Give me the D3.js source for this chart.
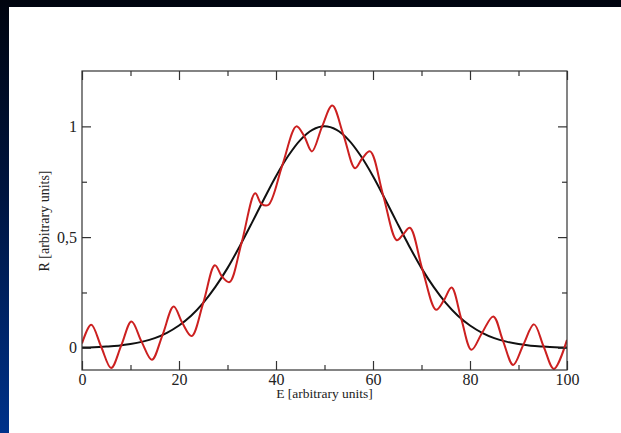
<!DOCTYPE html>
<html>
<head>
<meta charset="utf-8">
<script src="https://cdn.jsdelivr.net/npm/d3@7"></script>
<style>
  html, body { margin: 0; padding: 0; background: #fff; }
  svg { display: block; }
</style>
</head>
<body>
<svg id="chart" width="621" height="433"></svg>
<script>
// Gaussian reflectivity profile (black)
const gaussE = [0, 2.5, 5, 7.5, 10, 12.5, 15, 17.5, 20, 22.5, 25, 27.5, 30, 32.5, 35, 37.5, 40, 42.5, 45, 47.5,
                50, 52.5, 55, 57.5, 60, 62.5, 65, 67.5, 70, 72.5, 75, 77.5, 80, 82.5, 85, 87.5, 90, 92.5, 95, 97.5, 100];
const gaussR = [0.002, 0.003, 0.006, 0.010, 0.017, 0.028, 0.044, 0.068, 0.101, 0.145, 0.203, 0.275, 0.360, 0.458, 0.563, 0.671, 0.775, 0.866, 0.938, 0.984,
                1.000, 0.984, 0.938, 0.866, 0.775, 0.671, 0.563, 0.458, 0.360, 0.275, 0.203, 0.145, 0.101, 0.068, 0.044, 0.028, 0.017, 0.010, 0.006, 0.003, 0.002];

// Oscillating response (red): extrema and crossings of the profile
const waveE = [0, 1.9, 3.95, 6.0, 8.1, 10.2, 12.3, 14.4, 16.6, 18.9, 20.7, 22.6, 25.0, 27.4, 28.9, 30.4, 32.9, 35.7, 37.0, 38.4,
               41.3, 44.2, 45.8, 47.4, 49.5, 51.6, 53.9, 56.3, 57.8, 59.4, 62.1, 64.9, 66.2, 67.6, 70.2, 73.0, 74.6, 76.2, 78.2, 80.3,
               82.5, 84.8, 86.8, 88.9, 91.0, 93.2, 95.2, 97.3, 100];
const waveR = [0.020, 0.104, 0.005, -0.091, 0.011, 0.119, 0.027, -0.054, 0.058, 0.187, 0.112, 0.053, 0.203, 0.373, 0.321, 0.297, 0.474, 0.698, 0.650, 0.645,
               0.824, 1.000, 0.956, 0.887, 0.999, 1.094, 0.962, 0.811, 0.856, 0.887, 0.688, 0.486, 0.512, 0.542, 0.353, 0.172, 0.214, 0.272, 0.131, -0.009,
               0.068, 0.142, 0.032, -0.077, 0.014, 0.106, 0.005, -0.095, 0.036];

const xMajor = [0, 20, 40, 60, 80, 100];
const xMinor = [10, 30, 50, 70, 90];
const yMajor = [0, 0.5, 1];
const yMinor = [0.25, 0.75];
const yTickText = ["0", "0,5", "1"];
const xTitle = "E [arbitrary units]";
const yTitle = "R [arbitrary units]";

const W = 621, H = 433;
const svg = d3.select("#chart");

// slide backdrop: dark-to-blue frame with white panel
const defs = svg.append("defs");
const grad = defs.append("linearGradient").attr("id", "bg").attr("x1", 0).attr("y1", 0).attr("x2", 0).attr("y2", 1);
grad.append("stop").attr("offset", "0%").attr("stop-color", "#00040f");
grad.append("stop").attr("offset", "45%").attr("stop-color", "#001540");
grad.append("stop").attr("offset", "100%").attr("stop-color", "#00328a");
svg.append("rect").attr("width", W).attr("height", H).attr("fill", "url(#bg)");
svg.append("rect").attr("x", 9).attr("y", 7).attr("width", W - 9).attr("height", H - 7).attr("fill", "#ffffff");

const mLeft = 82, mRight = 567, mTop = 71, mBottom = 370;
const x = d3.scaleLinear().domain([0, 100]).range([mLeft, mRight]);
const y = d3.scaleLinear().domain([-0.1, 1.25]).range([mBottom, mTop]);

const plot = svg.append("g");
plot.append("clipPath").attr("id", "clip")
  .append("rect").attr("x", mLeft).attr("y", mTop).attr("width", mRight - mLeft).attr("height", mBottom - mTop);

const axisColor = "#333";
const font = "'Liberation Serif', 'Times New Roman', serif";

function styleAxis(g) {
  g.select(".domain").remove();
  g.selectAll(".tick line").attr("stroke", axisColor).attr("stroke-width", 1.2);
  g.selectAll(".tick text").attr("font-family", font).attr("font-size", 16).attr("fill", "#222");
}

// bottom axis with labels, ticks pointing into the plot
svg.append("g").attr("transform", `translate(0,${mBottom})`)
  .call(d3.axisBottom(x).tickValues(xMajor).tickSize(-9).tickPadding(4).tickFormat(d3.format("d")))
  .call(styleAxis);
svg.append("g").attr("transform", `translate(0,${mBottom})`)
  .call(d3.axisBottom(x).tickValues(xMinor).tickSize(-5).tickFormat(""))
  .call(styleAxis);
// top mirror ticks
svg.append("g").attr("transform", `translate(0,${mTop})`)
  .call(d3.axisTop(x).tickValues(xMajor).tickSize(-9).tickFormat(""))
  .call(styleAxis);
svg.append("g").attr("transform", `translate(0,${mTop})`)
  .call(d3.axisTop(x).tickValues(xMinor).tickSize(-5).tickFormat(""))
  .call(styleAxis);
// left axis with labels
svg.append("g").attr("transform", `translate(${mLeft},0)`)
  .call(d3.axisLeft(y).tickValues(yMajor).tickSize(-9).tickPadding(5).tickFormat((d, i) => yTickText[i]))
  .call(styleAxis);
svg.append("g").attr("transform", `translate(${mLeft},0)`)
  .call(d3.axisLeft(y).tickValues(yMinor).tickSize(-5).tickFormat(""))
  .call(styleAxis);
// right mirror ticks
svg.append("g").attr("transform", `translate(${mRight},0)`)
  .call(d3.axisRight(y).tickValues(yMajor).tickSize(-9).tickFormat(""))
  .call(styleAxis);
svg.append("g").attr("transform", `translate(${mRight},0)`)
  .call(d3.axisRight(y).tickValues(yMinor).tickSize(-5).tickFormat(""))
  .call(styleAxis);

// curves
const gaussData = gaussE.map((e, i) => [e, gaussR[i]]);
const waveData = waveE.map((e, i) => [e, waveR[i]]);
const line = d3.line().x(d => x(d[0])).y(d => y(d[1]));

plot.append("path").datum(gaussData)
  .attr("clip-path", "url(#clip)")
  .attr("fill", "none").attr("stroke", "#111").attr("stroke-width", 2)
  .attr("d", line.curve(d3.curveCatmullRom.alpha(0.5)));
plot.append("path").datum(waveData)
  .attr("clip-path", "url(#clip)")
  .attr("fill", "none").attr("stroke", "#cc2020").attr("stroke-width", 2)
  .attr("d", line.curve(d3.curveCatmullRom.alpha(0.5)));

// frame
svg.append("rect").attr("x", mLeft).attr("y", mTop).attr("width", mRight - mLeft).attr("height", mBottom - mTop)
  .attr("fill", "none").attr("stroke", axisColor).attr("stroke-width", 1.2);

// axis titles
svg.append("text").attr("x", (mLeft + mRight) / 2).attr("y", 398)
  .attr("text-anchor", "middle").attr("font-family", font).attr("font-size", 13.5).attr("fill", "#222")
  .text(xTitle);
svg.append("text").attr("transform", "translate(49,221) rotate(-90)")
  .attr("text-anchor", "middle").attr("font-family", font).attr("font-size", 14).attr("fill", "#222")
  .text(yTitle);
</script>
</body>
</html>
